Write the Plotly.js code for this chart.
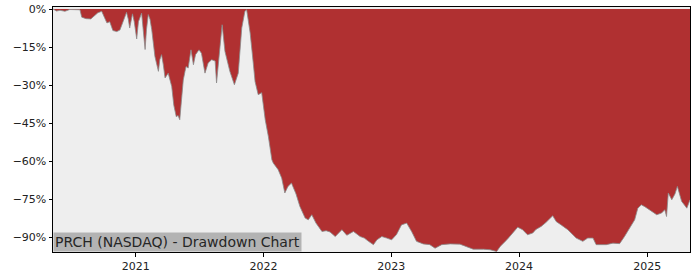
<!DOCTYPE html>
<html>
<head>
<meta charset="utf-8">
<script src="https://cdn.plot.ly/plotly-3.0.1.min.js"></script>
<style>html,body{margin:0;padding:0;background:#fff;}#chart{width:700px;height:280px;}</style>
</head>
<body>
<div id="chart"></div>
<script>
const dates = [
"2020-05-10","2020-05-20","2020-05-30","2020-06-13","2020-06-27","2020-07-14","2020-07-26","2020-07-31","2020-08-12","2020-08-26",
"2020-09-04","2020-09-15","2020-09-26","2020-10-02","2020-10-11","2020-10-19","2020-10-28","2020-11-08","2020-11-17","2020-11-26",
"2020-12-06","2020-12-11","2020-12-15","2020-12-23","2020-12-28","2021-01-04","2021-01-09","2021-01-18","2021-01-23","2021-01-28",
"2021-02-01","2021-02-06","2021-02-11","2021-02-16","2021-02-25","2021-03-07","2021-03-11","2021-03-16","2021-03-21","2021-03-26",
"2021-04-04","2021-04-14","2021-04-20","2021-04-27","2021-05-02","2021-05-07","2021-05-12","2021-05-17","2021-05-22","2021-05-25",
"2021-05-31","2021-06-08","2021-06-15","2021-06-21","2021-07-01","2021-07-08","2021-07-18","2021-07-27","2021-08-06","2021-08-16",
"2021-08-20","2021-08-26","2021-08-30","2021-09-05","2021-09-13","2021-09-27","2021-10-10","2021-10-21","2021-10-31","2021-11-09",
"2021-11-14","2021-11-24","2021-12-03","2021-12-08","2021-12-17","2021-12-27","2022-01-06","2022-01-15","2022-01-25","2022-01-29",
"2022-02-12","2022-02-22","2022-03-03","2022-03-12","2022-03-22","2022-04-04","2022-04-15","2022-04-30","2022-05-09","2022-05-19",
"2022-05-31","2022-06-17","2022-06-29","2022-07-10","2022-07-25","2022-08-02","2022-08-13","2022-08-27","2022-09-15","2022-10-04",
"2022-10-16","2022-10-28","2022-11-11","2022-11-21","2022-12-05","2022-12-19","2023-01-02","2023-01-16","2023-01-30","2023-02-14",
"2023-02-28","2023-03-14","2023-04-02","2023-04-21","2023-05-06","2023-05-25","2023-06-18","2023-07-16","2023-08-04","2023-08-23",
"2023-09-21","2023-10-10","2023-10-29","2023-11-08","2023-11-27","2023-12-16","2023-12-28","2024-01-11","2024-01-25","2024-02-09",
"2024-02-18","2024-03-04","2024-03-18","2024-04-06","2024-04-16","2024-04-30","2024-05-19","2024-06-12","2024-07-01","2024-07-15",
"2024-07-30","2024-08-08","2024-09-06","2024-09-25","2024-10-14","2024-10-28","2024-11-12","2024-11-26","2024-12-05","2024-12-15",
"2024-12-25","2025-01-08","2025-01-28","2025-02-11","2025-02-20","2025-02-25","2025-03-02","2025-03-12","2025-03-21","2025-03-28",
"2025-04-09","2025-04-24","2025-05-03"
];
const drawdown = [
0,-0.8,-0.5,-0.9,-0.2,-0.3,-0.3,-3.2,-3.8,-3.9,
-2.8,-1.5,-0.9,-2.5,-5.5,-5,-8.5,-8.9,-8.3,-5,
-1.3,-4,-7.5,-1.9,-5,-11.8,-5,-1.6,-8,-16,
-8,-2.2,-4,-8.2,-18.7,-24.6,-20,-18,-22,-27.2,
-25.3,-30.6,-38,-42.5,-42,-43.7,-35.8,-28,-24.6,-22.7,
-23.3,-16.1,-22,-18,-16.1,-17.5,-25.3,-21.3,-20,-20.5,
-29.2,-20,-12.8,-6.2,-16.7,-24.6,-29.9,-25.3,-7.5,-0.9,
-0.3,-9.5,-21.5,-28.6,-33.8,-33,-43.7,-50.3,-59.5,-60.8,
-63.4,-66.7,-72.6,-70,-68.7,-73,-77.9,-82.5,-83.2,-81.2,
-84.5,-87.8,-87.5,-88,-89.8,-88.5,-87.1,-89.3,-87.8,-89.8,
-90.4,-91.7,-93,-91.1,-89.8,-90.4,-91.1,-89,-85.2,-84.5,
-87.8,-91.7,-92.7,-93,-94.4,-93,-92.7,-92.8,-93.7,-94.8,
-94.8,-95,-95.7,-93.7,-91.1,-87.8,-86.1,-87.1,-89.1,-88.4,
-87,-85.8,-84.2,-81.6,-83.9,-85.2,-87.1,-90.4,-91.7,-90.4,
-90.4,-93,-93,-92.4,-92.6,-89.8,-86.5,-83.2,-78.6,-77.3,
-78,-79.2,-81.2,-80.5,-79.2,-81.9,-72.6,-75.3,-73,-70,
-75.9,-78.6,-75.3
];
const yTicks = [0,-15,-30,-45,-60,-75,-90];
const yTickLabels = ["0%","\u221215%","\u221230%","\u221245%","\u221260%","\u221275%","\u221290%"];
const xTicks = ["2021-01-01","2022-01-01","2023-01-01","2024-01-01","2025-01-01"];
const xTickLabels = ["2021","2022","2023","2024","2025"];
const chartLabel = "PRCH (NASDAQ) - Drawdown Chart";

const trace = {
  x: dates, y: drawdown, type: 'scatter', mode: 'lines',
  fill: 'tozeroy', fillcolor: '#b03031',
  line: {color: '#8a8a8a', width: 0.8},
  hoverinfo: 'skip'
};
const layout = {
  width: 700, height: 280,
  margin: {l: 53, r: 10, t: 7, b: 28},
  paper_bgcolor: '#ffffff', plot_bgcolor: '#eeeeee',
  showlegend: false,
  font: {family: 'DejaVu Sans', size: 11, color: '#222'},
  xaxis: {
    type: 'date', range: ['2020-05-10', '2025-05-03'],
    tickvals: xTicks, ticktext: xTickLabels,
    showgrid: false, zeroline: false,
    showline: true, mirror: true, linecolor: '#000', linewidth: 1,
    ticks: 'outside', ticklen: 3.5, tickcolor: '#000', tickwidth: 1,
    tickfont: {family: 'DejaVu Sans', size: 11, color: '#222'}
  },
  yaxis: {
    range: [-95.9, 0.8],
    tickvals: yTicks, ticktext: yTickLabels,
    showgrid: false, zeroline: false,
    showline: true, mirror: true, linecolor: '#000', linewidth: 1,
    ticks: 'outside', ticklen: 3.5, tickcolor: '#000', tickwidth: 1,
    tickfont: {family: 'DejaVu Sans', size: 11, color: '#222'}
  },
  annotations: [{
    text: chartLabel, xref: 'paper', yref: 'paper', x: 0, y: 0,
    xanchor: 'left', yanchor: 'bottom', showarrow: false,
    bgcolor: '#b3b3b3', borderpad: 1,
    font: {family: 'DejaVu Sans', size: 14, color: '#262626'}
  }]
};
Plotly.newPlot('chart', [trace], layout, {staticPlot: true, displayModeBar: false});
</script>
</body>
</html>
